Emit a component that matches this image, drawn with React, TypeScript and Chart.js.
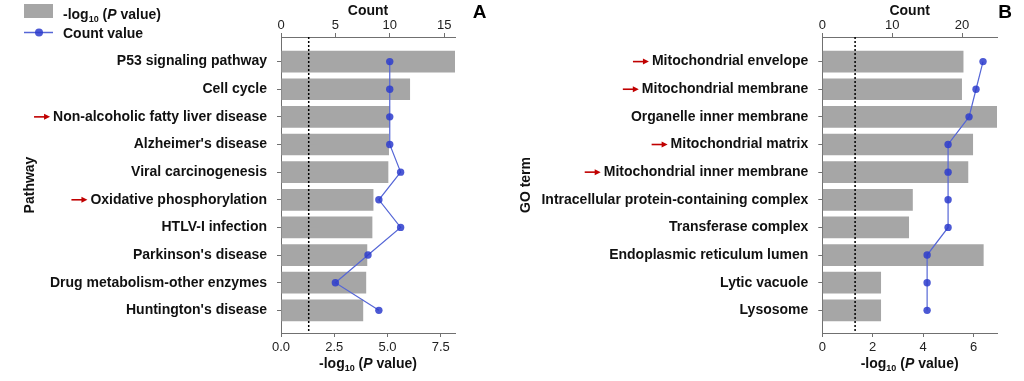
import React, { useEffect, useRef } from "react";
import { Chart, registerables } from "chart.js";

Chart.register(...registerables);

const FONT = "'Liberation Sans', Arial, Helvetica, sans-serif";

// ---------- Panel A data ----------
const pathwayLabels = [
  "P53 signaling pathway",
  "Cell cycle",
  "Non-alcoholic fatty liver disease",
  "Alzheimer's disease",
  "Viral carcinogenesis",
  "Oxidative phosphorylation",
  "HTLV-I infection",
  "Parkinson's disease",
  "Drug metabolism-other enzymes",
  "Huntington's disease",
];
const pathwayLogP = [8.17, 6.06, 5.12, 5.07, 5.04, 4.34, 4.29, 4.05, 4.0, 3.86];
const pathwayCount = [10, 10, 10, 10, 11, 9, 11, 8, 5, 9];
const pathwayMarked = [2, 5];

// ---------- Panel B data ----------
const goLabels = [
  "Mitochondrial envelope",
  "Mitochondrial membrane",
  "Organelle inner membrane",
  "Mitochondrial matrix",
  "Mitochondrial inner membrane",
  "Intracellular protein-containing complex",
  "Transferase complex",
  "Endoplasmic reticulum lumen",
  "Lytic vacuole",
  "Lysosome",
];
const goLogP = [5.6, 5.54, 6.93, 5.98, 5.79, 3.59, 3.44, 6.4, 2.33, 2.33];
const goCount = [23, 22, 21, 18, 18, 18, 18, 15, 15, 15];
const goMarked = [0, 1, 3, 4];

const threshold = 1.301; // -log10(0.05)

const BAR_COLOR = "#a6a6a6";
const LINE_COLOR = "#5566d6";
const POINT_COLOR = "rgba(45,60,205,0.85)";
const AXIS_COLOR = "#707070";
const TEXT_COLOR = "#111111";

function drawLogText(ctx: CanvasRenderingContext2D, x: number, baseline: number, align: "left" | "center") {
  const parts = [
    { t: "-log", f: `bold 14px ${FONT}`, dy: 0 },
    { t: "10", f: `bold 9px ${FONT}`, dy: 3 },
    { t: " (", f: `bold 14px ${FONT}`, dy: 0 },
    { t: "P", f: `italic bold 14px ${FONT}`, dy: 0 },
    { t: " value)", f: `bold 14px ${FONT}`, dy: 0 },
  ];
  ctx.save();
  ctx.textBaseline = "alphabetic";
  ctx.textAlign = "left";
  ctx.fillStyle = TEXT_COLOR;
  let total = 0;
  const widths = parts.map((p) => {
    ctx.font = p.f;
    const w = ctx.measureText(p.t).width;
    total += w;
    return w;
  });
  let cx = align === "center" ? x - total / 2 : x;
  parts.forEach((p, i) => {
    ctx.font = p.f;
    ctx.fillText(p.t, cx, baseline + p.dy);
    cx += widths[i];
  });
  ctx.restore();
}

type PanelCfg = {
  labels: string[];
  logP: number[];
  count: number[];
  marked: number[];
  xMax: number;
  xStep: number;
  xDecimals: number;
  x2Max: number;
  x2Step: number;
  yTitle: string;
  yTitlePad: number;
  yWidth: number;
  rightPad: number;
  letter: string;
  letterX: number;
  legend: boolean;
};

function makeChart(canvas: HTMLCanvasElement, cfg: PanelCfg) {
  const overlay = {
    id: "overlay",
    afterDatasetDraw(chart: any, args: any) {
      if (args.index !== 1) return;
      const { ctx, chartArea } = chart;
      const x = chart.scales.x.getPixelForValue(threshold);
      ctx.save();
      ctx.strokeStyle = "#000";
      ctx.lineWidth = 1.5;
      ctx.setLineDash([2, 2]);
      ctx.beginPath();
      ctx.moveTo(x, chartArea.top);
      ctx.lineTo(x, chartArea.bottom);
      ctx.stroke();
      ctx.restore();
    },
    afterDraw(chart: any) {
      const { ctx, chartArea } = chart;
      const yScale = chart.scales.y;
      // bottom title
      drawLogText(ctx, (chartArea.left + chartArea.right) / 2, 368, "center");
      // arrows
      ctx.save();
      ctx.font = `bold 14px ${FONT}`;
      cfg.marked.forEach((i) => {
        const y = yScale.getPixelForValue(i);
        const xr = yScale.right - 4 - 10;
        const w = ctx.measureText(cfg.labels[i]).width;
        const end = xr - w - 3;
        const start = end - 16;
        ctx.strokeStyle = "#c00000";
        ctx.fillStyle = "#c00000";
        ctx.lineWidth = 1.6;
        ctx.beginPath();
        ctx.moveTo(start, y);
        ctx.lineTo(end - 5, y);
        ctx.stroke();
        ctx.beginPath();
        ctx.moveTo(end, y);
        ctx.lineTo(end - 6, y - 3);
        ctx.lineTo(end - 6, y + 3);
        ctx.closePath();
        ctx.fill();
      });
      ctx.restore();
      // panel letter
      ctx.save();
      ctx.font = `bold 19px ${FONT}`;
      ctx.fillStyle = "#000";
      ctx.textAlign = "center";
      ctx.textBaseline = "alphabetic";
      ctx.fillText(cfg.letter, cfg.letterX, 17.5);
      ctx.restore();
      // legend
      if (cfg.legend) {
        ctx.save();
        ctx.fillStyle = BAR_COLOR;
        ctx.fillRect(24, 4, 29, 14);
        drawLogText(ctx, 63, 19, "left");
        ctx.strokeStyle = LINE_COLOR;
        ctx.lineWidth = 1.5;
        ctx.beginPath();
        ctx.moveTo(24, 32.5);
        ctx.lineTo(53, 32.5);
        ctx.stroke();
        ctx.fillStyle = POINT_COLOR;
        ctx.beginPath();
        ctx.arc(39, 32.5, 4, 0, Math.PI * 2);
        ctx.fill();
        ctx.font = `bold 14px ${FONT}`;
        ctx.fillStyle = TEXT_COLOR;
        ctx.textAlign = "left";
        ctx.textBaseline = "alphabetic";
        ctx.fillText("Count value", 63, 38);
        ctx.restore();
      }
    },
  };

  const gridOpts = {
    display: true,
    drawOnChartArea: false,
    drawTicks: true,
    tickLength: 4,
    offset: false,
    color: AXIS_COLOR,
  };
  const borderOpts = { display: true, color: AXIS_COLOR, width: 1 };

  return new Chart(canvas, {
    type: "bar",
    data: {
      datasets: [
        {
          type: "line",
          label: "Count value",
          data: cfg.count.map((c, i) => ({ x: c, y: i })),
          xAxisID: "x2",
          yAxisID: "y",
          borderColor: LINE_COLOR,
          borderWidth: 1.2,
          pointRadius: 3.7,
          pointBackgroundColor: POINT_COLOR,
          pointBorderColor: POINT_COLOR,
          pointBorderWidth: 0,
          tension: 0,
          fill: false,
        } as any,
        {
          type: "bar",
          label: "-log10 (P value)",
          data: cfg.logP.map((v, i) => ({ x: v, y: i })),
          xAxisID: "x",
          yAxisID: "y",
          backgroundColor: BAR_COLOR,
          borderWidth: 0,
          categoryPercentage: 1,
          barPercentage: 0.785,
        } as any,
      ],
    },
    options: {
      indexAxis: "y",
      animation: false,
      responsive: false,
      devicePixelRatio: 1,
      layout: { padding: { left: 0, right: cfg.rightPad, top: 0, bottom: 0 } },
      plugins: { legend: { display: false }, tooltip: { enabled: false } },
      scales: {
        y: {
          type: "linear",
          reverse: true,
          offset: false,
          min: -0.89,
          max: 9.82,
          afterBuildTicks: (scale: any) => {
            scale.ticks = cfg.labels.map((_, i) => ({ value: i }));
          },
          afterFit: (scale: any) => {
            scale.width = cfg.yWidth;
          },
          ticks: {
            autoSkip: false,
            padding: 10,
            color: TEXT_COLOR,
            font: { family: FONT, size: 14, weight: "bold" },
            callback: (v: any) => cfg.labels[v as number] ?? "",
          },
          grid: gridOpts,
          border: borderOpts,
          title: {
            display: true,
            text: cfg.yTitle,
            color: TEXT_COLOR,
            font: { family: FONT, size: 14, weight: "bold" },
            padding: { top: cfg.yTitlePad, bottom: 0 },
          },
        },
        x: {
          type: "linear",
          position: "bottom",
          offset: false,
          min: 0,
          max: cfg.xMax,
          afterFit: (scale: any) => {
            scale.height = 48;
          },
          ticks: {
            stepSize: cfg.xStep,
            includeBounds: false,
            padding: 3,
            maxRotation: 0,
            color: "#222",
            font: { family: FONT, size: 13 },
            callback: (v: any) => Number(v).toFixed(cfg.xDecimals),
          },
          grid: gridOpts,
          border: borderOpts,
        },
        x2: {
          type: "linear",
          position: "top",
          offset: false,
          min: 0,
          max: cfg.x2Max,
          afterFit: (scale: any) => {
            scale.height = 37;
          },
          ticks: {
            stepSize: cfg.x2Step,
            includeBounds: false,
            padding: 0,
            maxRotation: 0,
            color: "#222",
            font: { family: FONT, size: 13 },
            callback: (v: any) => String(v),
          },
          grid: gridOpts,
          border: borderOpts,
          title: {
            display: true,
            text: "Count",
            color: TEXT_COLOR,
            font: { family: FONT, size: 14, weight: "bold" },
            padding: { top: 3, bottom: 0 },
          },
        },
      },
    } as any,
    plugins: [overlay],
  });
}

export default function App() {
  const refA = useRef<HTMLCanvasElement>(null);
  const refB = useRef<HTMLCanvasElement>(null);

  useEffect(() => {
    const a = makeChart(refA.current!, {
      labels: pathwayLabels,
      logP: pathwayLogP,
      count: pathwayCount,
      marked: pathwayMarked,
      xMax: 8.17,
      xStep: 2.5,
      xDecimals: 1,
      x2Max: 16,
      x2Step: 5,
      yTitle: "Pathway",
      yTitlePad: 21.6,
      yWidth: 281,
      rightPad: 57,
      letter: "A",
      letterX: 479.5,
      legend: true,
    });
    const b = makeChart(refB.current!, {
      labels: goLabels,
      logP: goLogP,
      count: goCount,
      marked: goMarked,
      xMax: 6.93,
      xStep: 2,
      xDecimals: 0,
      x2Max: 25,
      x2Step: 10,
      yTitle: "GO term",
      yTitlePad: 5.6,
      yWidth: 310.3,
      rightPad: 27,
      letter: "B",
      letterX: 1005 - 512,
      legend: false,
    });
    return () => {
      a.destroy();
      b.destroy();
    };
  }, []);

  return (
    <div style={{ position: "absolute", left: 0, top: 0, width: 1024, height: 381, background: "#fff" }}>
      <canvas ref={refA} width={512} height={381} style={{ position: "absolute", left: 0, top: 0, width: 512, height: 381 }} />
      <canvas ref={refB} width={512} height={381} style={{ position: "absolute", left: 512, top: 0, width: 512, height: 381 }} />
    </div>
  );
}
